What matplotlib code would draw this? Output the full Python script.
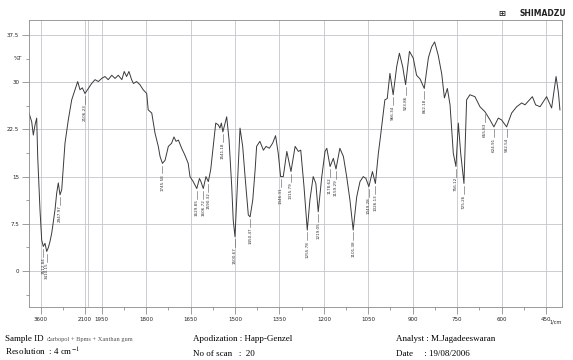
import numpy as np
import matplotlib
matplotlib.use("Agg")
import matplotlib.pyplot as plt

# spectrum: wavenumber (1/cm) and transmittance (%T)
wavenumber = [4000, 3908, 3854, 3796, 3739, 3705, 3661, 3627, 3569, 3515,
              3457, 3399, 3345, 3287, 3230, 3118, 3060, 3006, 2948, 2890,
              2836, 2779, 2667, 2551, 2439, 2348, 2270, 2191, 2100, 2070,
              2040, 2010, 1980, 1950, 1939, 1928, 1916, 1905, 1894, 1882,
              1874, 1866, 1858, 1849, 1843, 1832, 1821, 1810, 1798, 1793,
              1781, 1770, 1759, 1753, 1745, 1736, 1725, 1714, 1706, 1699,
              1691, 1680, 1669, 1658, 1652, 1641, 1629, 1620, 1615, 1607,
              1598, 1590, 1582, 1573, 1565, 1556, 1551, 1546, 1541, 1528,
              1520, 1511, 1506, 1500, 1492, 1483, 1474, 1466, 1455, 1449,
              1440, 1432, 1427, 1416, 1404, 1395, 1384, 1373, 1363, 1354,
              1346, 1337, 1325, 1311, 1297, 1286, 1278, 1267, 1256, 1247,
              1236, 1227, 1219, 1207, 1196, 1190, 1179, 1168, 1159, 1146,
              1134, 1123, 1112, 1101, 1089, 1078, 1067, 1058, 1048, 1036,
              1026, 1016, 1009, 999, 994, 986, 977, 966, 954, 945,
              934, 924, 911, 898, 887, 875, 861, 847, 836, 826,
              814, 802, 793, 783, 774, 763, 754, 746, 738, 727,
              718, 707, 690, 673, 656, 639, 626, 611, 600, 583,
              566, 549, 532, 521, 496, 485, 470, 459, 448, 431,
              416, 408, 403]
transmittance = [25.1, 23.7, 21.6, 23.2, 24.3, 18.2, 13.4, 9.7, 4.9, 3.9,
                 4.4, 3.1, 3.7, 4.7, 6.0, 9.7, 12.4, 14.0, 12.1, 12.9,
                 16.6, 20.3, 24.0, 27.2, 28.8, 30.1, 28.8, 29.1, 28.2, 29.0,
                 29.8, 30.4, 30.1, 30.6, 30.9, 30.4, 31.1, 30.6, 31.1, 30.4,
                 31.7, 30.9, 31.7, 30.4, 29.8, 30.1, 29.6, 28.8, 28.2, 25.6,
                 25.1, 21.9, 19.8, 18.2, 17.1, 17.6, 19.8, 20.3, 21.3, 20.6,
                 20.8, 19.5, 18.4, 17.1, 15.0, 14.2, 13.1, 14.7, 14.2, 13.1,
                 15.0, 14.2, 16.1, 20.0, 23.5, 23.2, 22.7, 23.5, 22.1, 24.5,
                 20.8, 13.4, 8.1, 5.45, 13.4, 22.7, 19.8, 15.0, 8.9, 8.6,
                 11.3, 16.1, 19.8, 20.6, 19.2, 19.8, 19.5, 20.3, 21.5, 18.7,
                 15.0, 15.0, 19.0, 15.8, 19.8, 19.0, 19.2, 13.4, 6.5, 11.3,
                 15.0, 13.9, 9.4, 15.0, 19.0, 19.5, 16.6, 17.9, 16.2, 19.5,
                 18.2, 15.0, 11.3, 6.5, 11.8, 14.2, 15.0, 14.7, 13.4, 15.8,
                 13.9, 18.7, 21.3, 25.3, 27.2, 27.4, 31.4, 28.0, 32.5, 34.6,
                 32.5, 29.6, 34.9, 33.8, 31.1, 30.5, 29.0, 33.9, 35.6, 36.4,
                 34.3, 31.3, 27.5, 29.0, 26.4, 18.7, 16.6, 23.5, 18.7, 13.9,
                 27.2, 28.0, 27.7, 26.1, 25.3, 24.0, 22.9, 24.3, 24.0, 22.9,
                 25.1, 26.1, 26.7, 26.4, 27.7, 26.4, 26.1, 26.9, 27.7, 25.9,
                 30.9, 28.3, 25.6]

# peak picks: position, %T at the dip, printed label
peak_wn = [3515, 3399, 2948, 2100, 1745, 1629, 1607, 1590, 1541, 1500,
           1449, 1346, 1311, 1256, 1219, 1179, 1159, 1101, 1048, 1026,
           966, 924, 861, 754, 727, 656, 626, 583]
peak_t = [3.9, 3.1, 12.1, 28.2, 17.1, 13.1, 13.1, 14.2, 22.1, 5.45,
          8.6, 15.0, 15.8, 6.5, 9.4, 16.6, 16.2, 6.5, 13.4, 13.9,
          28.0, 29.6, 29.0, 16.6, 13.9, 25.3, 22.9, 22.9]
peak_txt = ["3512.84", "3410.15", "2947.97", "2106.23", "1745.58", "1629.85",
            "1606.72", "1590.32", "1541.18", "1500.67", "1450.47", "1346.31",
            "1315.79", "1255.78", "1219.05", "1178.62", "1159.29", "1101.38",
            "1049.28", "1026.13", "966.34", "923.86", "862.18", "756.12",
            "725.26", "655.83", "624.91", "582.54"]

xticks = [3600, 2100, 1950, 1800, 1650, 1500, 1350, 1200, 1050, 900, 750, 600, 450]
xminor = [2850, 1875, 1725, 1575, 1425, 1275, 1125, 975, 825, 675, 525]
yticks = [0, 7.5, 15, 22.5, 30, 37.5]
ylabels = ["0", "7.5", "15", "22.5", "30", "37.5"]
yminor = [-3.75, 3.75, 11.25, 18.75, 26.25, 33.75]

# the chart compresses 4000-2100 and 2100-1950, so the axis is piecewise linear
wn_breaks = [396, 1950, 2100, 4000]
pos_breaks = [-562.0, -101.7, -85.0, -29.0]   # negated pixel column

def fwd(w):
    return np.interp(w, wn_breaks, pos_breaks)

def inv(p):
    return np.interp(p, pos_breaks, wn_breaks)


fig = plt.figure(figsize=(5.73, 3.6), dpi=100)
ax = fig.add_axes([29 / 573, 1 - 307 / 360, 533 / 573, 287 / 360])
ax.set_xscale("function", functions=(fwd, inv))
ax.set_xlim(4000, 396)
ax.set_ylim(-5.72, 39.88)

gridc = "#c4c4cc"
for xv in xticks + [2072]:
    ax.axvline(xv, color=gridc, lw=0.6, zorder=0)
for yv in yticks:
    ax.axhline(yv, color=gridc, lw=0.6, zorder=0)

ax.plot(wavenumber, transmittance, color="#3a3a3a", lw=0.7)

# peak pick markers + vertical labels
for w, t, s in zip(peak_wn, peak_t, peak_txt):
    ax.plot([w, w], [t - 0.35, t - 1.6], color="#555555", lw=0.4)
    ax.text(w, t - 1.7, s, rotation=90, ha="center", va="top",
            fontsize=3.0, color="#333333")

ax.set_xticks(xticks)
ax.set_xticklabels([str(v) for v in xticks])
ax.set_xticks(xminor, minor=True)
ax.set_yticks(yticks)
ax.set_yticklabels(ylabels)
ax.set_yticks(yminor, minor=True)
ax.tick_params(which="major", direction="out", length=5, width=0.5,
               color="#777777", labelsize=4, labelcolor="#222222", pad=2)
ax.tick_params(which="minor", direction="out", length=2.5, width=0.5,
               color="#777777")
ax.text(-0.012, 33.75, "%T", transform=ax.get_yaxis_transform(),
        ha="right", va="center", fontsize=4, color="#222222")
for sp in ax.spines.values():
    sp.set_color("#8a8a8a")
    sp.set_linewidth(0.6)

fig.text(556 / 573, 1 - 324 / 360, "1/cm", fontsize=3.5, ha="center", color="#222222")

# header logo
fig.text(505 / 573, 1 - 13 / 360, "\u229e", fontsize=6, ha="right", va="center",
         fontweight="bold", color="#222222")
fig.text(566 / 573, 1 - 13 / 360, "SHIMADZU", fontsize=5.5, ha="right", va="center",
         fontweight="bold", color="#222222")

# footer info
plt.rcParams["mathtext.fontset"] = "stix"
serif = "Liberation Serif"
r1 = 1 - 341 / 360
r2 = 1 - 356 / 360
fig.text(5 / 573, r1, "Sample ID  :", family=serif, fontsize=6.5)
fig.text(47 / 573, r1, "carbopol + Bpms + Xanthan gum", family=serif, fontsize=4.6,
         color="#555555")
fig.text(5 / 573, r2, "Resolution  : 4 cm$^{-1}$", family=serif, fontsize=6.5)
fig.text(193 / 573, r1, "Apodization : Happ-Genzel", family=serif, fontsize=6.5)
fig.text(193 / 573, r2, "No of scan   :  20", family=serif, fontsize=6.5)
fig.text(396 / 573, r1, "Analyst : M.Jagadeeswaran", family=serif, fontsize=6.5)
fig.text(396 / 573, r2, "Date     : 19/08/2006", family=serif, fontsize=6.5)

fig.savefig("out.png", dpi=100)
